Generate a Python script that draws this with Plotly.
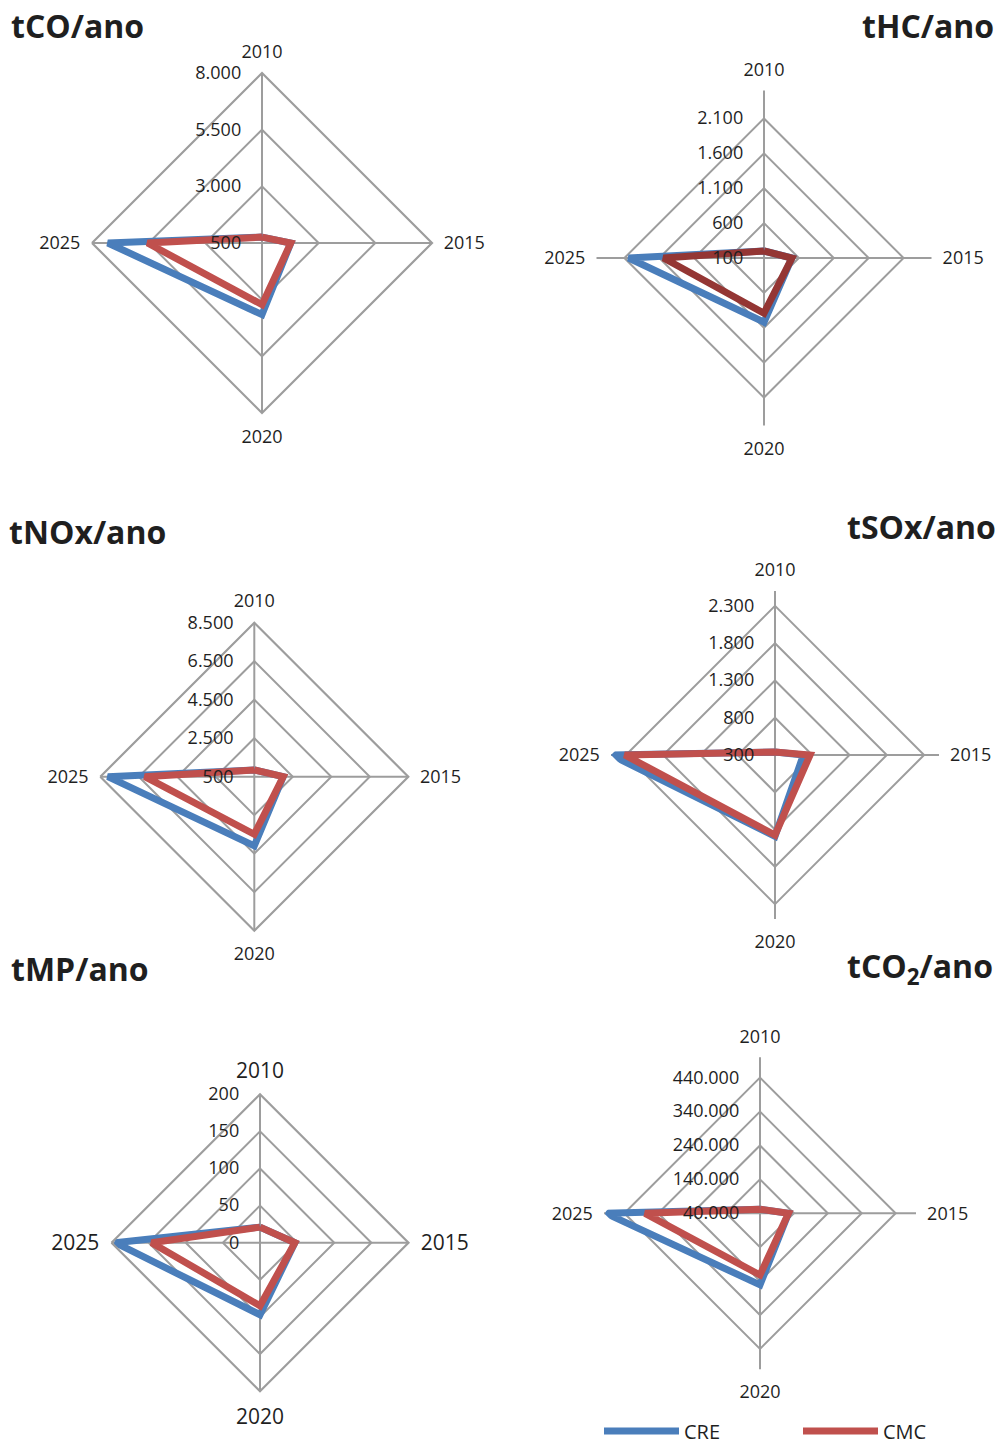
import plotly.graph_objects as go

# ---------------- data ----------------
years = ["2010", "2015", "2020", "2025"]
series_names = ["CRE", "CMC"]

co_cre = [760, 1770, 3660, 7300]
co_cmc = [760, 1770, 3220, 5550]
hc_cre = [200, 500, 1020, 2040]
hc_cmc = [200, 500, 890, 1540]
nox_cre = [850, 2000, 4090, 8110]
nox_cmc = [850, 2000, 3490, 6190]
sox_cre = [340, 680, 1390, 2495]
sox_cmc = [340, 770, 1375, 2316]
mp_cre = [21, 47, 97, 195]
mp_cmc = [21, 47, 85, 146]
co2_cre = [52000, 124000, 251000, 494000]
co2_cmc = [52000, 124000, 222000, 379000]

co_ticks = [500, 3000, 5500, 8000]
co_ticktext = ["500", "3.000", "5.500", "8.000"]
hc_ticks = [100, 600, 1100, 1600, 2100]
hc_ticktext = ["100", "600", "1.100", "1.600", "2.100"]
nox_ticks = [500, 2500, 4500, 6500, 8500]
nox_ticktext = ["500", "2.500", "4.500", "6.500", "8.500"]
sox_ticks = [300, 800, 1300, 1800, 2300]
sox_ticktext = ["300", "800", "1.300", "1.800", "2.300"]
mp_ticks = [0, 50, 100, 150, 200]
mp_ticktext = ["0", "50", "100", "150", "200"]
co2_ticks = [40000, 140000, 240000, 340000, 440000]
co2_ticktext = ["40.000", "140.000", "240.000", "340.000", "440.000"]

titles = ["tCO/ano", "tHC/ano", "tNOx/ano", "tSOx/ano", "tMP/ano", "tCO<sub>2</sub>/ano"]

# ---------------- style / layout ----------------
W, H = 999, 1445
FONT = "Open Sans"
GRID = "#9d9d9d"
TXT = "#1f1f1f"
BLUE = "#4a7ebb"
RED = "#c0504d"
DARKRED = "#943634"

charts = [
    dict(cre=co_cre, cmc=co_cmc, tv=co_ticks, tt=co_ticktext, rng=[500, 8000],
         c=(262, 243), r=170, outer=True, fs=18, afs=18, cmc_col=RED,
         title=titles[0], tx=12, ty=25, tside="left"),
    dict(cre=hc_cre, cmc=hc_cmc, tv=hc_ticks, tt=hc_ticktext, rng=[100, 2500],
         c=(764, 258), r=167.5, outer=False, fs=18, afs=18, cmc_col=DARKRED,
         title=titles[1], tx=993, ty=25, tside="right"),
    dict(cre=nox_cre, cmc=nox_cmc, tv=nox_ticks, tt=nox_ticktext, rng=[500, 8500],
         c=(254.3, 776.7), r=154, outer=True, fs=18, afs=18, cmc_col=RED,
         title=titles[2], tx=10, ty=531, tside="left"),
    dict(cre=sox_cre, cmc=sox_cmc, tv=sox_ticks, tt=sox_ticktext, rng=[300, 2500],
         c=(775, 755), r=164, outer=False, fs=18, afs=18, cmc_col=RED,
         title=titles[3], tx=995, ty=526, tside="right"),
    dict(cre=mp_cre, cmc=mp_cmc, tv=mp_ticks, tt=mp_ticktext, rng=[0, 200],
         c=(260, 1242.7), r=148.5, outer=True, fs=18, afs=21, cmc_col=RED,
         title=titles[4], tx=12, ty=968, tside="left"),
    dict(cre=co2_cre, cmc=co2_cmc, tv=co2_ticks, tt=co2_ticktext, rng=[40000, 500000],
         c=(760, 1213.3), r=156, outer=False, fs=18, afs=18, cmc_col=RED,
         title=titles[5], tx=992, ty=968, tside="right"),
]

fig = go.Figure()
legend_common = dict(orientation="h", yanchor="middle", xanchor="left",
                     font=dict(size=20, family=FONT, color=TXT), itemwidth=75,
                     bgcolor="rgba(0,0,0,0)", borderwidth=0)
layout = dict(
    autosize=False,
    width=W, height=H,
    margin=dict(l=0, r=0, t=0, b=0, pad=0, autoexpand=False),
    paper_bgcolor="white",
    plot_bgcolor="white",
    font=dict(family=FONT, color=TXT),
    showlegend=True,
    legend=dict(x=599 / W, y=1 - 1431 / H, **legend_common),
    legend2=dict(x=798 / W, y=1 - 1431 / H, **legend_common),
)
annotations = []
theta_closed = years + years[:1]

for i, ch in enumerate(charts):
    pid = "polar" if i == 0 else f"polar{i + 1}"
    cx, cy = ch["c"]
    r = ch["r"]
    layout[pid] = dict(
        domain=dict(x=[(cx - r) / W, (cx + r) / W], y=[1 - (cy + r) / H, 1 - (cy - r) / H]),
        gridshape="linear",
        bgcolor="rgba(0,0,0,0)",
        radialaxis=dict(range=ch["rng"], tickvals=ch["tv"], ticktext=ch["tt"], angle=90,
                        tickangle=90,
                        side="counterclockwise", showline=False, gridcolor=GRID, gridwidth=2.2,
                        ticks="outside", ticklen=14, tickcolor="rgba(0,0,0,0)",
                        tickfont=dict(size=ch["fs"], family=FONT, color=TXT)),
        angularaxis=dict(rotation=90, direction="clockwise", showline=ch["outer"], linecolor=GRID,
                         linewidth=2.2, gridcolor=GRID, gridwidth=2.2,
                         ticks="outside", ticklen=7, tickcolor="rgba(0,0,0,0)",
                         categoryorder="array", categoryarray=years,
                         tickfont=dict(size=ch["afs"], family=FONT, color=TXT)),
    )
    fig.add_trace(go.Scatterpolar(
        r=ch["cre"] + ch["cre"][:1], theta=theta_closed, mode="lines", name=series_names[0],
        line=dict(color=BLUE, width=7), subplot=pid, showlegend=(i == 0), legend="legend"))
    fig.add_trace(go.Scatterpolar(
        r=ch["cmc"] + ch["cmc"][:1], theta=theta_closed, mode="lines", name=series_names[1],
        line=dict(color=ch["cmc_col"] if i != 0 else RED, width=7), subplot=pid,
        showlegend=(i == 0), legend="legend2"))
    annotations.append(dict(
        text=ch["title"], x=ch["tx"] / W, y=1 - ch["ty"] / H, xref="paper", yref="paper",
        xanchor=ch["tside"], yanchor="middle", showarrow=False,
        xshift=(-3 if ch["tside"] == "left" else 3),
        font=dict(size=32, family=FONT, color=TXT, weight="bold")))

layout["annotations"] = annotations
fig.update_layout(**layout)
fig.write_html("out.html", default_width=W, default_height=H)
